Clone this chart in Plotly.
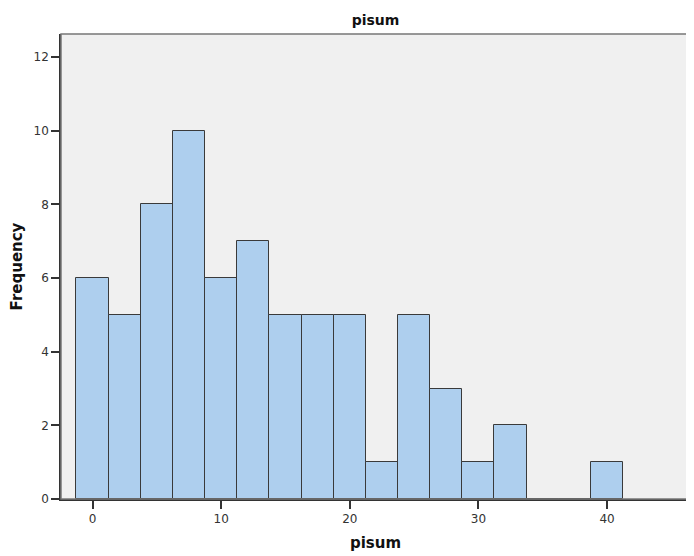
import plotly.graph_objects as go

bin_centers = [0, 2.5, 5, 7.5, 10, 12.5, 15, 17.5, 20, 22.5, 25, 27.5, 30, 32.5, 35, 37.5, 40]
counts = [6, 5, 8, 10, 6, 7, 5, 5, 5, 1, 5, 3, 1, 2, 0, 0, 1]
bin_width = 2.5
x_ticks = [0, 10, 20, 30, 40]
y_ticks = [0, 2, 4, 6, 8, 10, 12]

fig = go.Figure()
fig.add_trace(go.Bar(
    x=bin_centers, y=counts, width=[bin_width] * len(bin_centers),
    marker=dict(color="#AECFEE", line=dict(color="#3a3a3a", width=1)),
    hoverinfo="x+y",
))

# page has an 8px body margin, so the figure is sized to fit inside it
fig.update_layout(
    width=686, height=548,
    margin=dict(l=52.5, r=4, t=26, b=57),
    paper_bgcolor="white", plot_bgcolor="#F0F0F0",
    bargap=0, showlegend=False,
    font=dict(family="DejaVu Sans", size=12, color="#333"),
    title=dict(text="<b>pisum</b>", x=0.5, xref="paper", y=1 - 12 / 548, yanchor="middle",
               font=dict(family="DejaVu Sans", size=14, color="#111")),
)
fig.update_xaxes(
    range=[-2.45, 46.45], tickvals=x_ticks, ticks="outside", ticklen=8, tickwidth=1.5,
    tickcolor="#333", showgrid=False, zeroline=False, showline=True, linecolor="#333",
    linewidth=1.5, mirror=False, tickfont=dict(size=12, color="#333"), automargin=False,
    title=dict(text="<b>pisum</b>", font=dict(family="DejaVu Sans", size=15, color="#111"), standoff=12),
)
fig.update_yaxes(
    range=[0, 12.63], tickvals=y_ticks, ticks="outside", ticklen=8, tickwidth=1.5,
    tickcolor="#333", showgrid=False, zeroline=False, showline=True, linecolor="#333",
    linewidth=1.5, tickfont=dict(size=12, color="#333"), automargin=False,
    title=dict(text="<b>Frequency</b>", font=dict(family="DejaVu Sans", size=15, color="#111"), standoff=14),
)
fig.add_shape(type="rect", xref="paper", yref="paper", x0=0, y0=0, x1=1, y1=1,
              line=dict(color="#777", width=1.5), fillcolor="rgba(0,0,0,0)", layer="above")

fig.write_html("out.html")
